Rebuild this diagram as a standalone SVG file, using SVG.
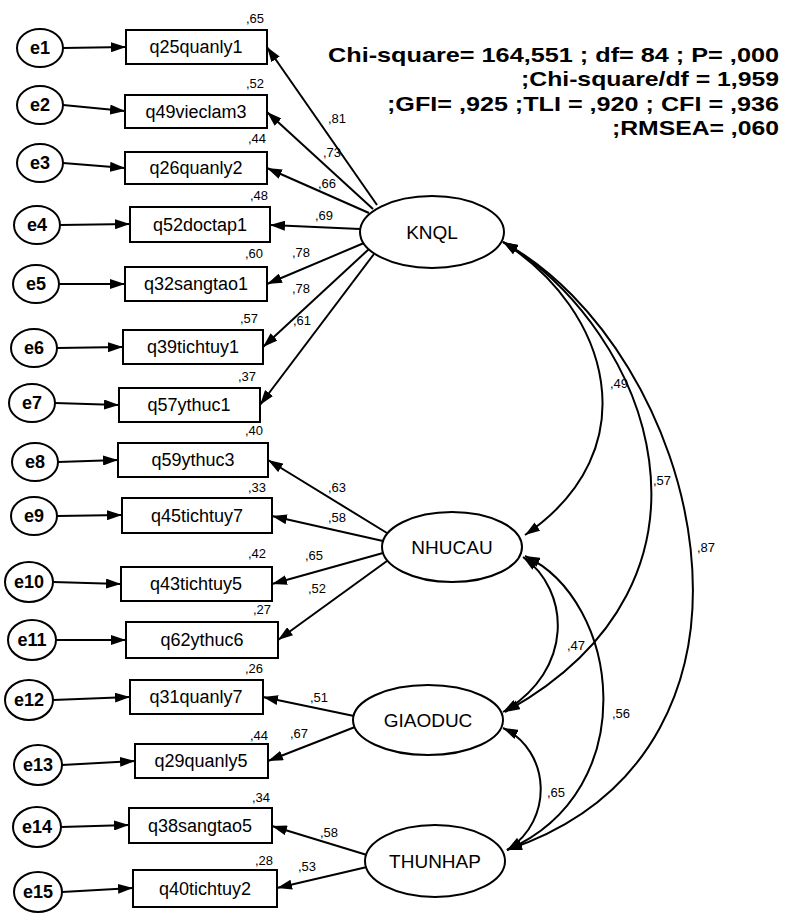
<svg xmlns="http://www.w3.org/2000/svg" width="792" height="914" viewBox="0 0 792 914">
<defs>
<marker id="ah" viewBox="0 0 15 10" refX="15" refY="5" markerWidth="15" markerHeight="10" markerUnits="userSpaceOnUse" orient="auto-start-reverse">
<path d="M0,0 L15,5 L0,10 Z" fill="#000"/>
</marker>
</defs>
<style>
.box{fill:#fff;stroke:#000;stroke-width:2}
.err{fill:#fff;stroke:#000;stroke-width:2}
.lat{fill:#fff;stroke:#000;stroke-width:2}
.ln{fill:none;stroke:#000;stroke-width:2;marker-end:url(#ah)}
.cv{fill:none;stroke:#000;stroke-width:2;marker-start:url(#ah);marker-end:url(#ah)}
.bt{font-family:"Liberation Sans",Arial,sans-serif;font-size:18px;text-anchor:middle;fill:#000}
.et{font-family:"Liberation Sans",Arial,sans-serif;font-size:18px;font-weight:bold;text-anchor:middle;fill:#000}
.lt{font-family:"Liberation Sans",Arial,sans-serif;font-size:19px;text-anchor:middle;fill:#000}
.nt{font-family:"Liberation Sans",Arial,sans-serif;font-size:13px;fill:#000}
.tt{font-family:"Liberation Sans",Arial,sans-serif;font-size:21px;font-weight:bold;text-anchor:end;fill:#000}
</style>
<rect width="792" height="914" fill="#fff"/>

<g id="fit">
<text class="tt" x="779" y="62" textLength="451" lengthAdjust="spacingAndGlyphs">Chi-square= 164,551 ; df= 84 ; P= ,000</text>
<text class="tt" x="779" y="86" textLength="258" lengthAdjust="spacingAndGlyphs">;Chi-square/df = 1,959</text>
<text class="tt" x="779" y="111" textLength="392" lengthAdjust="spacingAndGlyphs">;GFI= ,925 ;TLI = ,920 ; CFI = ,936</text>
<text class="tt" x="779" y="135" textLength="167" lengthAdjust="spacingAndGlyphs">;RMSEA= ,060</text>
</g>

<g id="connectors">
<line class="ln" x1="63" y1="48" x2="126" y2="47"/>
<line class="ln" x1="63" y1="105" x2="125" y2="111"/>
<line class="ln" x1="63" y1="163" x2="125" y2="168"/>
<line class="ln" x1="60" y1="225" x2="130" y2="224"/>
<line class="ln" x1="59" y1="284" x2="125" y2="284"/>
<line class="ln" x1="57" y1="348" x2="123" y2="347"/>
<line class="ln" x1="55" y1="403" x2="119" y2="405"/>
<line class="ln" x1="58" y1="462" x2="118" y2="460"/>
<line class="ln" x1="57" y1="516" x2="122" y2="515"/>
<line class="ln" x1="53" y1="582" x2="121" y2="584"/>
<line class="ln" x1="56" y1="640" x2="126" y2="640"/>
<line class="ln" x1="53" y1="700" x2="130" y2="697"/>
<line class="ln" x1="62" y1="765" x2="135" y2="761"/>
<line class="ln" x1="61" y1="827" x2="129" y2="825"/>
<line class="ln" x1="62" y1="892" x2="133" y2="888"/>

<line class="ln" x1="377" y1="205" x2="267" y2="47"/>
<line class="ln" x1="373" y1="209" x2="267" y2="112"/>
<line class="ln" x1="369" y1="213" x2="267" y2="168"/>
<line class="ln" x1="360" y1="229" x2="270" y2="225"/>
<line class="ln" x1="364" y1="243" x2="267" y2="284"/>
<line class="ln" x1="369" y1="249" x2="263" y2="347"/>
<line class="ln" x1="374" y1="254" x2="260" y2="405"/>

<line class="ln" x1="387" y1="533" x2="268" y2="460"/>
<line class="ln" x1="383" y1="541" x2="272" y2="516"/>
<line class="ln" x1="383" y1="553" x2="272" y2="584"/>
<line class="ln" x1="387" y1="561" x2="278" y2="640"/>

<line class="ln" x1="354" y1="716" x2="263" y2="697"/>
<line class="ln" x1="355" y1="727" x2="268" y2="761"/>

<line class="ln" x1="367" y1="855" x2="272" y2="826"/>
<line class="ln" x1="367" y1="867" x2="277" y2="888"/>

<path class="cv" d="M503,242 C610,310 650,450 525,535"/>
<path class="cv" d="M503,242 C650,330 745,580 505,712"/>
<path class="cv" d="M503,242 C700,350 805,750 507,850"/>
<path class="cv" d="M523,557 C570,590 575,670 503,712"/>
<path class="cv" d="M525,556 C620,600 645,790 507,850"/>
<path class="cv" d="M503,728 C550,750 555,820 507,850"/>

<text class="nt" x="328" y="123">,81</text>
<text class="nt" x="323" y="157">,73</text>
<text class="nt" x="318" y="188">,66</text>
<text class="nt" x="315" y="220">,69</text>
<text class="nt" x="292" y="257">,78</text>
<text class="nt" x="292" y="293">,78</text>
<text class="nt" x="293" y="325">,61</text>
<text class="nt" x="328" y="492">,63</text>
<text class="nt" x="328" y="522">,58</text>
<text class="nt" x="305" y="560">,65</text>
<text class="nt" x="308" y="593">,52</text>
<text class="nt" x="310" y="702">,51</text>
<text class="nt" x="290" y="738">,67</text>
<text class="nt" x="320" y="837">,58</text>
<text class="nt" x="298" y="871">,53</text>

<text class="nt" x="610" y="388">,49</text>
<text class="nt" x="653" y="485">,57</text>
<text class="nt" x="697" y="552">,87</text>
<text class="nt" x="567" y="650">,47</text>
<text class="nt" x="612" y="718">,56</text>
<text class="nt" x="547" y="797">,65</text>
</g>

<g id="e1"><ellipse class="err" cx="40" cy="48" rx="23" ry="19"/><text class="et" x="40" y="54">e1</text></g>
<g id="e2"><ellipse class="err" cx="40" cy="105" rx="23" ry="19"/><text class="et" x="40" y="111">e2</text></g>
<g id="e3"><ellipse class="err" cx="40" cy="163" rx="23" ry="19"/><text class="et" x="40" y="169">e3</text></g>
<g id="e4"><ellipse class="err" cx="37" cy="225" rx="23" ry="19"/><text class="et" x="37" y="231">e4</text></g>
<g id="e5"><ellipse class="err" cx="36" cy="284" rx="23" ry="19"/><text class="et" x="36" y="290">e5</text></g>
<g id="e6"><ellipse class="err" cx="34" cy="348" rx="23" ry="19"/><text class="et" x="34" y="354">e6</text></g>
<g id="e7"><ellipse class="err" cx="32" cy="403" rx="23" ry="19"/><text class="et" x="32" y="409">e7</text></g>
<g id="e8"><ellipse class="err" cx="35" cy="462" rx="23" ry="19"/><text class="et" x="35" y="468">e8</text></g>
<g id="e9"><ellipse class="err" cx="34" cy="516" rx="23" ry="19"/><text class="et" x="34" y="522">e9</text></g>
<g id="e10"><ellipse class="err" cx="29" cy="582" rx="24" ry="20"/><text class="et" x="29" y="588">e10</text></g>
<g id="e11"><ellipse class="err" cx="32" cy="640" rx="24" ry="20"/><text class="et" x="32" y="646">e11</text></g>
<g id="e12"><ellipse class="err" cx="29" cy="700" rx="24" ry="20"/><text class="et" x="29" y="706">e12</text></g>
<g id="e13"><ellipse class="err" cx="38" cy="765" rx="24" ry="20"/><text class="et" x="38" y="771">e13</text></g>
<g id="e14"><ellipse class="err" cx="37" cy="827" rx="24" ry="20"/><text class="et" x="37" y="833">e14</text></g>
<g id="e15"><ellipse class="err" cx="38" cy="892" rx="24" ry="20"/><text class="et" x="38" y="898">e15</text></g>

<g id="q25quanly1"><rect class="box" x="126" y="30" width="141" height="34"/><text class="bt" x="196" y="53">q25quanly1</text><text class="nt" x="246" y="23">,65</text></g>
<g id="q49vieclam3"><rect class="box" x="125" y="95" width="142" height="33"/><text class="bt" x="196" y="118">q49vieclam3</text><text class="nt" x="246" y="88">,52</text></g>
<g id="q26quanly2"><rect class="box" x="125" y="152" width="142" height="32"/><text class="bt" x="196" y="174">q26quanly2</text><text class="nt" x="248" y="143">,44</text></g>
<g id="q52doctap1"><rect class="box" x="130" y="207" width="140" height="35"/><text class="bt" x="200" y="231">q52doctap1</text><text class="nt" x="250" y="200">,48</text></g>
<g id="q32sangtao1"><rect class="box" x="125" y="267" width="142" height="34"/><text class="bt" x="196" y="290">q32sangtao1</text><text class="nt" x="245" y="258">,60</text></g>
<g id="q39tichtuy1"><rect class="box" x="123" y="330" width="140" height="34"/><text class="bt" x="193" y="353">q39tichtuy1</text><text class="nt" x="240" y="323">,57</text></g>
<g id="q57ythuc1"><rect class="box" x="119" y="388" width="141" height="34"/><text class="bt" x="189" y="411">q57ythuc1</text><text class="nt" x="238" y="381">,37</text></g>
<g id="q59ythuc3"><rect class="box" x="118" y="443" width="150" height="34"/><text class="bt" x="193" y="466">q59ythuc3</text><text class="nt" x="245" y="435">,40</text></g>
<g id="q45tichtuy7"><rect class="box" x="122" y="498" width="150" height="35"/><text class="bt" x="197" y="522">q45tichtuy7</text><text class="nt" x="248" y="492">,33</text></g>
<g id="q43tichtuy5"><rect class="box" x="121" y="567" width="151" height="34"/><text class="bt" x="196" y="590">q43tichtuy5</text><text class="nt" x="248" y="558">,42</text></g>
<g id="q62ythuc6"><rect class="box" x="126" y="622" width="152" height="36"/><text class="bt" x="202" y="646">q62ythuc6</text><text class="nt" x="253" y="614">,27</text></g>
<g id="q31quanly7"><rect class="box" x="130" y="680" width="133" height="34"/><text class="bt" x="196" y="703">q31quanly7</text><text class="nt" x="245" y="673">,26</text></g>
<g id="q29quanly5"><rect class="box" x="135" y="744" width="133" height="34"/><text class="bt" x="201" y="767">q29quanly5</text><text class="nt" x="250" y="740">,44</text></g>
<g id="q38sangtao5"><rect class="box" x="129" y="808" width="143" height="35"/><text class="bt" x="200" y="832">q38sangtao5</text><text class="nt" x="252" y="802">,34</text></g>
<g id="q40tichtuy2"><rect class="box" x="133" y="870" width="144" height="37"/><text class="bt" x="205" y="895">q40tichtuy2</text><text class="nt" x="255" y="865">,28</text></g>

<g id="KNQL"><ellipse class="lat" cx="432" cy="232" rx="72" ry="36"/><text class="lt" x="432" y="239">KNQL</text></g>
<g id="NHUCAU"><ellipse class="lat" cx="452" cy="547" rx="70" ry="35"/><text class="lt" x="452" y="554">NHUCAU</text></g>
<g id="GIAODUC"><ellipse class="lat" cx="428" cy="720" rx="75" ry="35"/><text class="lt" x="428" y="727">GIAODUC</text></g>
<g id="THUNHAP"><ellipse class="lat" cx="435" cy="861" rx="70" ry="36"/><text class="lt" x="435" y="868">THUNHAP</text></g>
</svg>
